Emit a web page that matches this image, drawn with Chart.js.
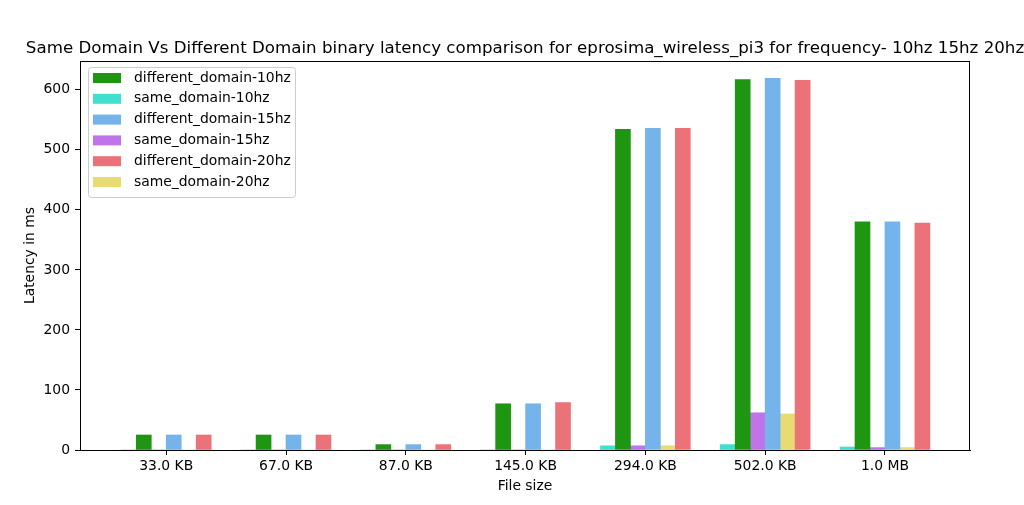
<!DOCTYPE html>
<html>
<head>
<meta charset="utf-8">
<script src="https://cdn.jsdelivr.net/npm/chart.js@4.4.1/dist/chart.umd.min.js"></script>
<style>
  html, body { margin: 0; padding: 0; background: #fff; }
  #wrap { width: 1024px; height: 505px; }
</style>
</head>
<body>
<div id="wrap"><canvas id="chart" width="1024" height="505"></canvas></div>
<script>
// Data (latency in ms)
const CATEGORIES = ['33.0 KB', '67.0 KB', '87.0 KB', '145.0 KB', '294.0 KB', '502.0 KB', '1.0 MB'];
const DIFF_10 = [25, 25, 9, 77, 534, 617, 380];
const SAME_10 = [0, 0, 0, 0, 7, 9, 5];
const DIFF_15 = [25, 25, 9, 77, 536, 619, 380];
const SAME_15 = [0, 0, 0, 0, 7, 62, 4];
const DIFF_20 = [25, 25, 9, 79, 536, 616, 378];
const SAME_20 = [0, 0, 0, 0, 7, 60, 4];
const Y_TICKS = [0, 100, 200, 300, 400, 500, 600];

const TITLE = 'Same Domain Vs Different Domain binary latency comparison for eprosima_wireless_pi3 for frequency- 10hz 15hz 20hz';
const FONT = '"DejaVu Sans", sans-serif';
const BAR_W = 0.125; // bar width in category units

// slot = position of the bar inside its group (0..5, left to right)
const SERIES = [
  { label: 'different_domain-10hz', values: DIFF_10, color: '#1f9612', slot: 1 },
  { label: 'same_domain-10hz',      values: SAME_10, color: '#40e0d0', slot: 0 },
  { label: 'different_domain-15hz', values: DIFF_15, color: '#74b4ea', slot: 3 },
  { label: 'same_domain-15hz',      values: SAME_15, color: '#bf75e9', slot: 2 },
  { label: 'different_domain-20hz', values: DIFF_20, color: '#ec7279', slot: 5 },
  { label: 'same_domain-20hz',      values: SAME_20, color: '#e6dc72', slot: 4 },
];

const datasets = SERIES.map((s) => ({
  label: s.label,
  data: s.values.map((v, i) => ({ x: i + (s.slot - 2.5) * BAR_W, y: v })),
  backgroundColor: s.color,
  borderWidth: 0,
  barThickness: 15,
  grouped: false,
}));

// frame, title and in-plot legend, drawn the matplotlib way
const decor = {
  id: 'decor',
  afterDraw(chart) {
    const { ctx, chartArea: a } = chart;
    ctx.save();
    ctx.strokeStyle = '#000';
    ctx.lineWidth = 1;
    ctx.strokeRect(a.left + 0.5, a.top + 0.5, a.right - a.left - 1, a.bottom - a.top);

    ctx.fillStyle = '#000';
    ctx.font = '16.67px ' + FONT;
    ctx.textAlign = 'center';
    ctx.textBaseline = 'alphabetic';
    ctx.fillText(TITLE, (a.left + a.right) / 2, 53);

    // legend box
    const bx = 88, by = 67, bw = 207, bh = 130;
    ctx.beginPath();
    ctx.roundRect(bx + 0.5, by + 0.5, bw, bh, 3);
    ctx.fillStyle = 'rgba(255,255,255,0.8)';
    ctx.fill();
    ctx.strokeStyle = '#cccccc';
    ctx.stroke();

    ctx.font = '13.9px ' + FONT;
    ctx.textAlign = 'left';
    ctx.textBaseline = 'middle';
    chart.data.datasets.forEach((d, k) => {
      const cy = 78 + k * 20.8;
      ctx.fillStyle = d.backgroundColor;
      ctx.fillRect(93, cy - 5, 28, 10);
      ctx.fillStyle = '#000';
      ctx.fillText(d.label, 134, cy);
    });
    ctx.restore();
  }
};

new Chart(document.getElementById('chart'), {
  type: 'bar',
  data: { datasets },
  plugins: [decor],
  options: {
    responsive: false,
    animation: false,
    layout: { padding: { top: 61, right: 54, left: 0, bottom: 0 } },
    plugins: {
      legend: { display: false },
      title: { display: false },
      tooltip: { enabled: false },
    },
    scales: {
      x: {
        type: 'linear',
        offset: false,
        min: -0.72,
        max: 6.71,
        afterFit(scale) { scale.height = 55; },
        afterBuildTicks(scale) { scale.ticks = CATEGORIES.map((c, i) => ({ value: i })); },
        ticks: {
          color: '#000',
          font: { family: FONT, size: 13.9 },
          padding: 3,
          maxRotation: 0,
          autoSkip: false,
          callback: (v) => CATEGORIES[v],
        },
        grid: { offset: false, drawOnChartArea: false, drawTicks: true, tickLength: 5, color: '#000' },
        border: { display: true, color: '#000', width: 1 },
        title: {
          display: true,
          text: 'File size',
          color: '#000',
          font: { family: FONT, size: 13.9 },
          padding: { top: 0, bottom: 10.5 },
        },
      },
      y: {
        min: 0,
        max: 648,
        afterFit(scale) { scale.width = 80; },
        afterBuildTicks(scale) { scale.ticks = Y_TICKS.map(v => ({ value: v })); },
        ticks: {
          color: '#000',
          font: { family: FONT, size: 13.9 },
          padding: 5,
        },
        grid: { drawOnChartArea: false, drawTicks: true, tickLength: 5, color: '#000' },
        border: { display: true, color: '#000', width: 1 },
        title: {
          display: true,
          text: 'Latency in ms',
          color: '#000',
          font: { family: FONT, size: 13.9 },
          padding: { top: 22.5, bottom: 0 },
        },
      },
    },
  },
});
</script>
</body>
</html>
